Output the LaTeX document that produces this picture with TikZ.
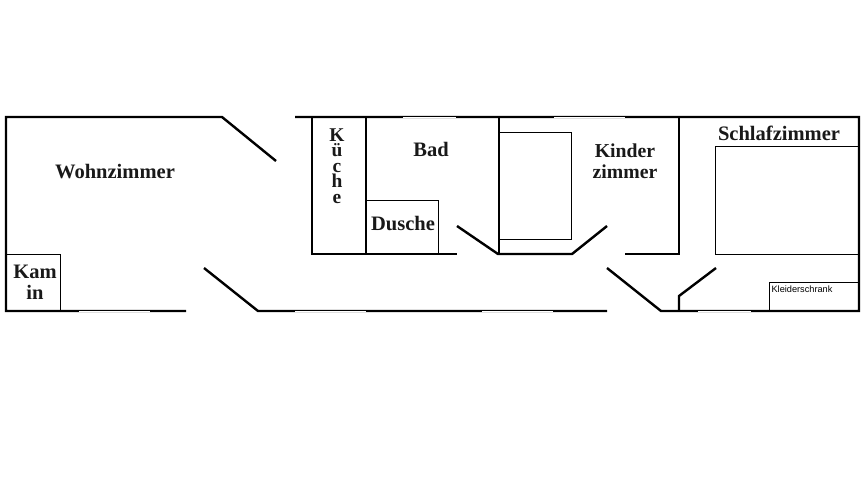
\documentclass[tikz,border=0pt]{standalone}
\usepackage{fontspec}
\setmainfont{Liberation Serif}
\setsansfont{Liberation Sans}
\usepackage{tikz}
\tikzstyle{wall}=[line width=1.8pt, line join=miter]
\tikzstyle{thinwall}=[line width=0.6pt]
\tikzstyle{window}=[draw=white, line width=0.6pt]
\tikzstyle{room}=[font=\fontsize{15.4}{16}\selectfont\bfseries, align=center, inner sep=0pt, text=black!90]
\begin{document}
\begin{tikzpicture}[x=0.75pt,y=-0.75pt]
      \useasboundingbox (0,0) rectangle (866,482);
      % furniture
      \draw[thinwall] (6,254) -- (60,254) -- (60,311);
      \draw[thinwall] (366,200) -- (438,200) -- (438,254);
      \draw[thinwall] (499,132) -- (571,132) -- (571,239) -- (499,239);
      \draw[thinwall] (859,146) -- (715,146) -- (715,254) -- (859,254);
      \draw[thinwall] (859,282) -- (769,282) -- (769,311);
      % outer walls
      \draw[wall] (276,161) -- (222,117) -- (6,117) -- (6,311) -- (186,311);
      \draw[wall] (204,268) -- (258,311) -- (607,311);
      \draw[wall] (607,268) -- (661,311) -- (859,311) -- (859,117) -- (295,117);
      % inner walls
      \draw[wall] (312,117) -- (312,254) -- (457,254);
      \draw[wall] (366,117) -- (366,254);
      \draw[wall] (457,226) -- (498,254) -- (572,254) -- (607,226);
      \draw[wall] (499,117) -- (499,254);
      \draw[wall] (625,254) -- (679,254) -- (679,117);
      \draw[wall] (716,268) -- (679,296) -- (679,311);
      % windows
      \foreach \xa/\xb in {79/150,295/366,482/553,698/751}
        \draw[window] (\xa,311) -- (\xb,311);
      \foreach \xa/\xb in {403/456,554/625}
        \draw[window] (\xa,117) -- (\xb,117);
      % labels
      \node[room] (wohnzimmer) at (115,172) {Wohnzimmer};
      \node[room] (kamin) at (35,282) {Kam\\in};
      \node[room, font=\fontsize{14.6}{11.6}\selectfont\bfseries] (kueche) at (337,166) {K\\ü\\c\\h\\e};
      \node[room] (bad) at (431,149) {Bad};
      \node[room] (dusche) at (403,223) {Dusche};
      \node[room, font=\fontsize{14.8}{16}\selectfont\bfseries] (kinderzimmer) at (625,161) {Kinder\\zimmer};
      \node[room] (schlafzimmer) at (779,133) {Schlafzimmer};
      \node[font=\sffamily\fontsize{6.9}{7}\selectfont, inner sep=0pt] (kleiderschrank) at (802,289) {Kleiderschrank};
    \end{tikzpicture}
\end{document}
